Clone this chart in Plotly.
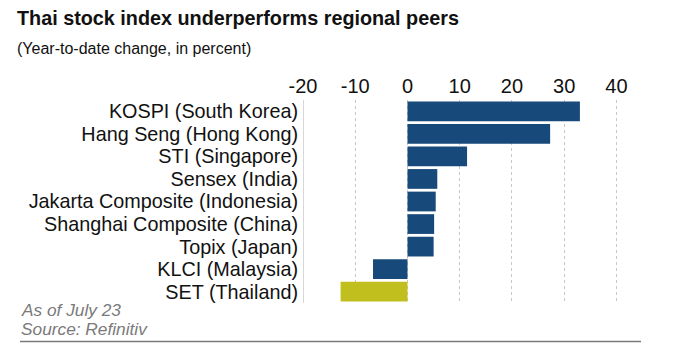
import plotly.graph_objects as go

categories = ["KOSPI (South Korea)", "Hang Seng (Hong Kong)", "STI (Singapore)",
              "Sensex (India)", "Jakarta Composite (Indonesia)",
              "Shanghai Composite (China)", "Topix (Japan)", "KLCI (Malaysia)",
              "SET (Thailand)"]
values = [33.0, 27.3, 11.4, 5.7, 5.4, 5.1, 5.0, -6.6, -12.8]
highlight = "SET (Thailand)"
tick_vals = [-20, -10, 0, 10, 20, 30, 40]

BLUE = "#174a7b"
YELLOW = "#c1bf1e"
colors = [YELLOW if c == highlight else BLUE for c in categories]

# the page body has an 8px margin; lay out in page coordinates and offset
OFF = 8
W, H = 685 - OFF, 357 - OFF
L, R, T, B = 303 - OFF, 45, 99.5 - OFF, 54
PW = W - L - R
PH = H - T - B

def px(xp):
    return (xp - OFF - L) / PW

def py(yp):
    return (H - B - (yp - OFF)) / PH

FONT = "Liberation Sans, Arial, Helvetica, sans-serif"

fig = go.Figure(go.Bar(
    x=values, y=categories, orientation="h",
    marker=dict(color=colors, line=dict(width=0)),
    hoverinfo="skip",
))

fig.update_layout(
    width=W, height=H,
    margin=dict(l=L, r=R, t=T, b=B),
    paper_bgcolor="white", plot_bgcolor="white",
    bargap=0.124,
    showlegend=False,
    font=dict(family=FONT, color="#111111"),
    xaxis=dict(
        side="top", range=[-20, 44.5], tickvals=tick_vals,
        ticktext=[str(v) for v in tick_vals],
        showgrid=True, gridcolor="#c8c8c8", griddash="dot", gridwidth=1,
        zeroline=False, showline=False, ticks="",
        tickfont=dict(size=20, color="#111111", family=FONT),
        ticklabelstandoff=2,
        fixedrange=True,
    ),
    yaxis=dict(
        categoryorder="array", categoryarray=categories[::-1],
        tickmode="array", tickvals=categories, ticktext=categories,
        showgrid=False, zeroline=False, ticks="",
        showline=False,
        tickfont=dict(size=19.8, color="#111111", family=FONT),
        ticklabelstandoff=4,
        fixedrange=True,
    ),
    shapes=[
        dict(type="line", xref="x", yref="paper", x0=-20, x1=-20, y0=0, y1=1,
             line=dict(color="#b0b0b0", width=1)),
        dict(type="line", xref="paper", yref="paper", x0=px(20), x1=px(641),
             y0=py(341.7), y1=py(341.7), line=dict(color="#7a7a7a", width=1.5)),
    ],
    annotations=[
        dict(text="<b>Thai stock index underperforms regional peers</b>",
             xref="paper", yref="paper", x=px(15), y=py(17),
             xanchor="left", yanchor="middle", showarrow=False,
             font=dict(size=19.8, color="#111111", family=FONT)),
        dict(text="(Year-to-date change, in percent)",
             xref="paper", yref="paper", x=px(15), y=py(48),
             xanchor="left", yanchor="middle", showarrow=False,
             font=dict(size=16, color="#111111", family=FONT)),
        dict(text="<i>As of July 23</i>",
             xref="paper", yref="paper", x=px(19), y=py(310),
             xanchor="left", yanchor="middle", showarrow=False,
             font=dict(size=17.3, color="#7a7a7a", family=FONT)),
        dict(text="<i>Source: Refinitiv</i>",
             xref="paper", yref="paper", x=px(19), y=py(329),
             xanchor="left", yanchor="middle", showarrow=False,
             font=dict(size=17.3, color="#7a7a7a", family=FONT)),
    ],
)

fig.write_html("out.html", config={"displayModeBar": False})
